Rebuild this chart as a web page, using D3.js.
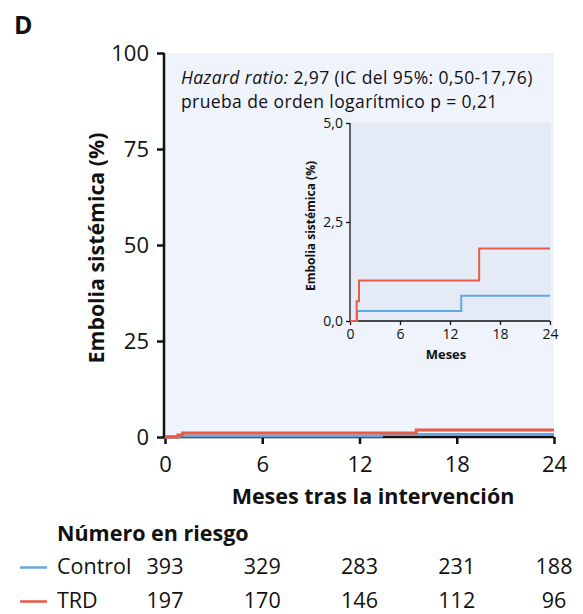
<!DOCTYPE html>
<html>
<head>
<meta charset="utf-8">
<script src="https://cdn.jsdelivr.net/npm/d3@7"></script>
<style>
  html, body { margin: 0; padding: 0; background: #fff; }
  svg { display: block; font-family: "Open Sans", "Noto Sans", sans-serif; }
</style>
</head>
<body>
<svg id="chart" width="583" height="614"></svg>
<script>
// Kaplan-Meier cumulative incidence steps: [month, percent]
const controlSteps = [[0, 0], [0.85, 0.25], [13.35, 0.64], [24, 0.64]];
const trdSteps = [[0, 0], [0.8, 0.5], [1.08, 1.02], [15.5, 1.83], [24, 1.83]];

const seriesNames = ["Control", "TRD"];
const seriesColors = ["#62a8e0", "#ea5a44"];

const mainXTicks = [0, 6, 12, 18, 24];
const mainYTicks = [0, 25, 50, 75, 100];
const insetYTicks = [0, 2.5, 5];
const insetYTickLabels = ["0,0", "2,5", "5,0"];

const riskMonths = [0, 6, 12, 18, 24];
const riskControl = [393, 329, 283, 231, 188];
const riskTRD = [197, 170, 146, 112, 96];

const ink = "#111";
const svg = d3.select("#chart");

// Panel letter
svg.append("text").attr("x", 14).attr("y", 34)
  .attr("font-size", 25).attr("font-weight", 700).attr("fill", ink).text("D");

// ---- main plot ----
const x = d3.scaleLinear().domain([0, 24]).range([165, 554]);
const y = d3.scaleLinear().domain([0, 100]).range([437, 53]);

svg.append("rect").attr("x", x(0)).attr("y", y(100))
  .attr("width", x(24) - x(0)).attr("height", y(0) - y(100))
  .attr("fill", "#eef3fc");

const yAxis = svg.append("g").attr("transform", `translate(${x(0) - 1},0)`)
  .call(d3.axisLeft(y).tickValues(mainYTicks).tickSize(7).tickPadding(8));
const xAxis = svg.append("g").attr("transform", `translate(0,${y(0)})`)
  .call(d3.axisBottom(x).tickValues(mainXTicks).tickSize(7).tickPadding(12));
[yAxis, xAxis].forEach(g => {
  g.select(".domain").attr("stroke", ink).attr("stroke-width", 2.5);
  g.selectAll(".tick line").attr("stroke", ink).attr("stroke-width", 2.5);
  g.selectAll(".tick text").attr("font-size", 22).attr("fill", ink)
    .attr("font-family", "'Open Sans', sans-serif");
});
yAxis.select(".domain").attr("d", `M0,${y(100)}V${y(0)}`);
xAxis.select(".domain").attr("d", `M${x(0)},0H${x(24)}`);

svg.append("text").attr("transform", `translate(104,248) rotate(-90)`)
  .attr("text-anchor", "middle").attr("font-size", 21.3).attr("font-weight", 700)
  .attr("fill", ink).text("Embolia sistémica (%)");
svg.append("text").attr("x", 373).attr("y", 504)
  .attr("text-anchor", "middle").attr("font-size", 21.5).attr("font-weight", 700)
  .attr("fill", ink).text("Meses tras la intervención");

const stepLine = (sx, sy) => d3.line().x(d => sx(d[0])).y(d => sy(d[1])).curve(d3.curveStepAfter);
const allSteps = [controlSteps, trdSteps];

svg.append("g").selectAll("path").data(allSteps).join("path")
  .attr("d", d => stepLine(x, y)(d))
  .attr("fill", "none").attr("stroke", (d, i) => seriesColors[i]).attr("stroke-width", 3);

// Annotation block
const ann = svg.append("text").attr("x", 181).attr("y", 84)
  .attr("font-size", 17.5).attr("letter-spacing", 0.4).attr("fill", ink);
ann.append("tspan").attr("font-style", "italic").text("Hazard ratio:");
ann.append("tspan").text(" 2,97 (IC del 95%: 0,50-17,76)");
ann.append("tspan").attr("x", 181).attr("dy", 24).text("prueba de orden logarítmico p = 0,21");

// ---- inset ----
const ix = d3.scaleLinear().domain([0, 24]).range([350, 550]);
const iy = d3.scaleLinear().domain([0, 5]).range([321, 123]);

svg.append("rect").attr("x", ix(0)).attr("y", iy(5))
  .attr("width", ix(24) - ix(0) + 1).attr("height", iy(0) - iy(5))
  .attr("fill", "#e4ebf6");

const iyAxis = svg.append("g").attr("transform", `translate(${ix(0)},0)`)
  .call(d3.axisLeft(iy).tickValues(insetYTicks).tickFormat((d, i) => insetYTickLabels[i]).tickSize(4).tickPadding(3));
const ixAxis = svg.append("g").attr("transform", `translate(0,${iy(0)})`)
  .call(d3.axisBottom(ix).tickValues(mainXTicks).tickSize(4).tickPadding(4));
[iyAxis, ixAxis].forEach(g => {
  g.select(".domain").attr("stroke", ink).attr("stroke-width", 1.3);
  g.selectAll(".tick line").attr("stroke", ink).attr("stroke-width", 1.3);
  g.selectAll(".tick text").attr("font-size", 14).attr("fill", ink)
    .attr("font-family", "'Open Sans', sans-serif");
});
iyAxis.select(".domain").attr("d", `M0,${iy(5)}V${iy(0)}`);
ixAxis.select(".domain").attr("d", `M${ix(0)},0H${ix(24)}`);

svg.append("text").attr("transform", `translate(315,226) rotate(-90)`)
  .attr("text-anchor", "middle").attr("font-size", 12).attr("font-weight", 700)
  .attr("fill", ink).text("Embolia sistémica (%)");
svg.append("text").attr("x", 446).attr("y", 359)
  .attr("text-anchor", "middle").attr("font-size", 13).attr("font-weight", 700)
  .attr("fill", ink).text("Meses");

svg.append("g").selectAll("path").data(allSteps).join("path")
  .attr("d", d => stepLine(ix, iy)(d))
  .attr("fill", "none").attr("stroke", (d, i) => seriesColors[i]).attr("stroke-width", 2);

// ---- number at risk ----
svg.append("text").attr("x", 57).attr("y", 541)
  .attr("font-size", 21.5).attr("font-weight", 700).attr("fill", ink).text("Número en riesgo");

const riskRows = [riskControl, riskTRD];
const rowY = [574, 608];
riskRows.forEach((row, r) => {
  svg.append("line").attr("x1", 20).attr("x2", 47)
    .attr("y1", rowY[r] - 6.5).attr("y2", rowY[r] - 6.5)
    .attr("stroke", seriesColors[r]).attr("stroke-width", 2.5);
  svg.append("text").attr("x", 57).attr("y", rowY[r])
    .attr("font-size", 21.5).attr("fill", ink).text(seriesNames[r]);
  svg.append("g").selectAll("text").data(row).join("text")
    .attr("x", (d, i) => x(riskMonths[i])).attr("y", rowY[r])
    .attr("text-anchor", "middle").attr("font-size", 21.5).attr("fill", ink)
    .text(d => d);
});
</script>
</body>
</html>
